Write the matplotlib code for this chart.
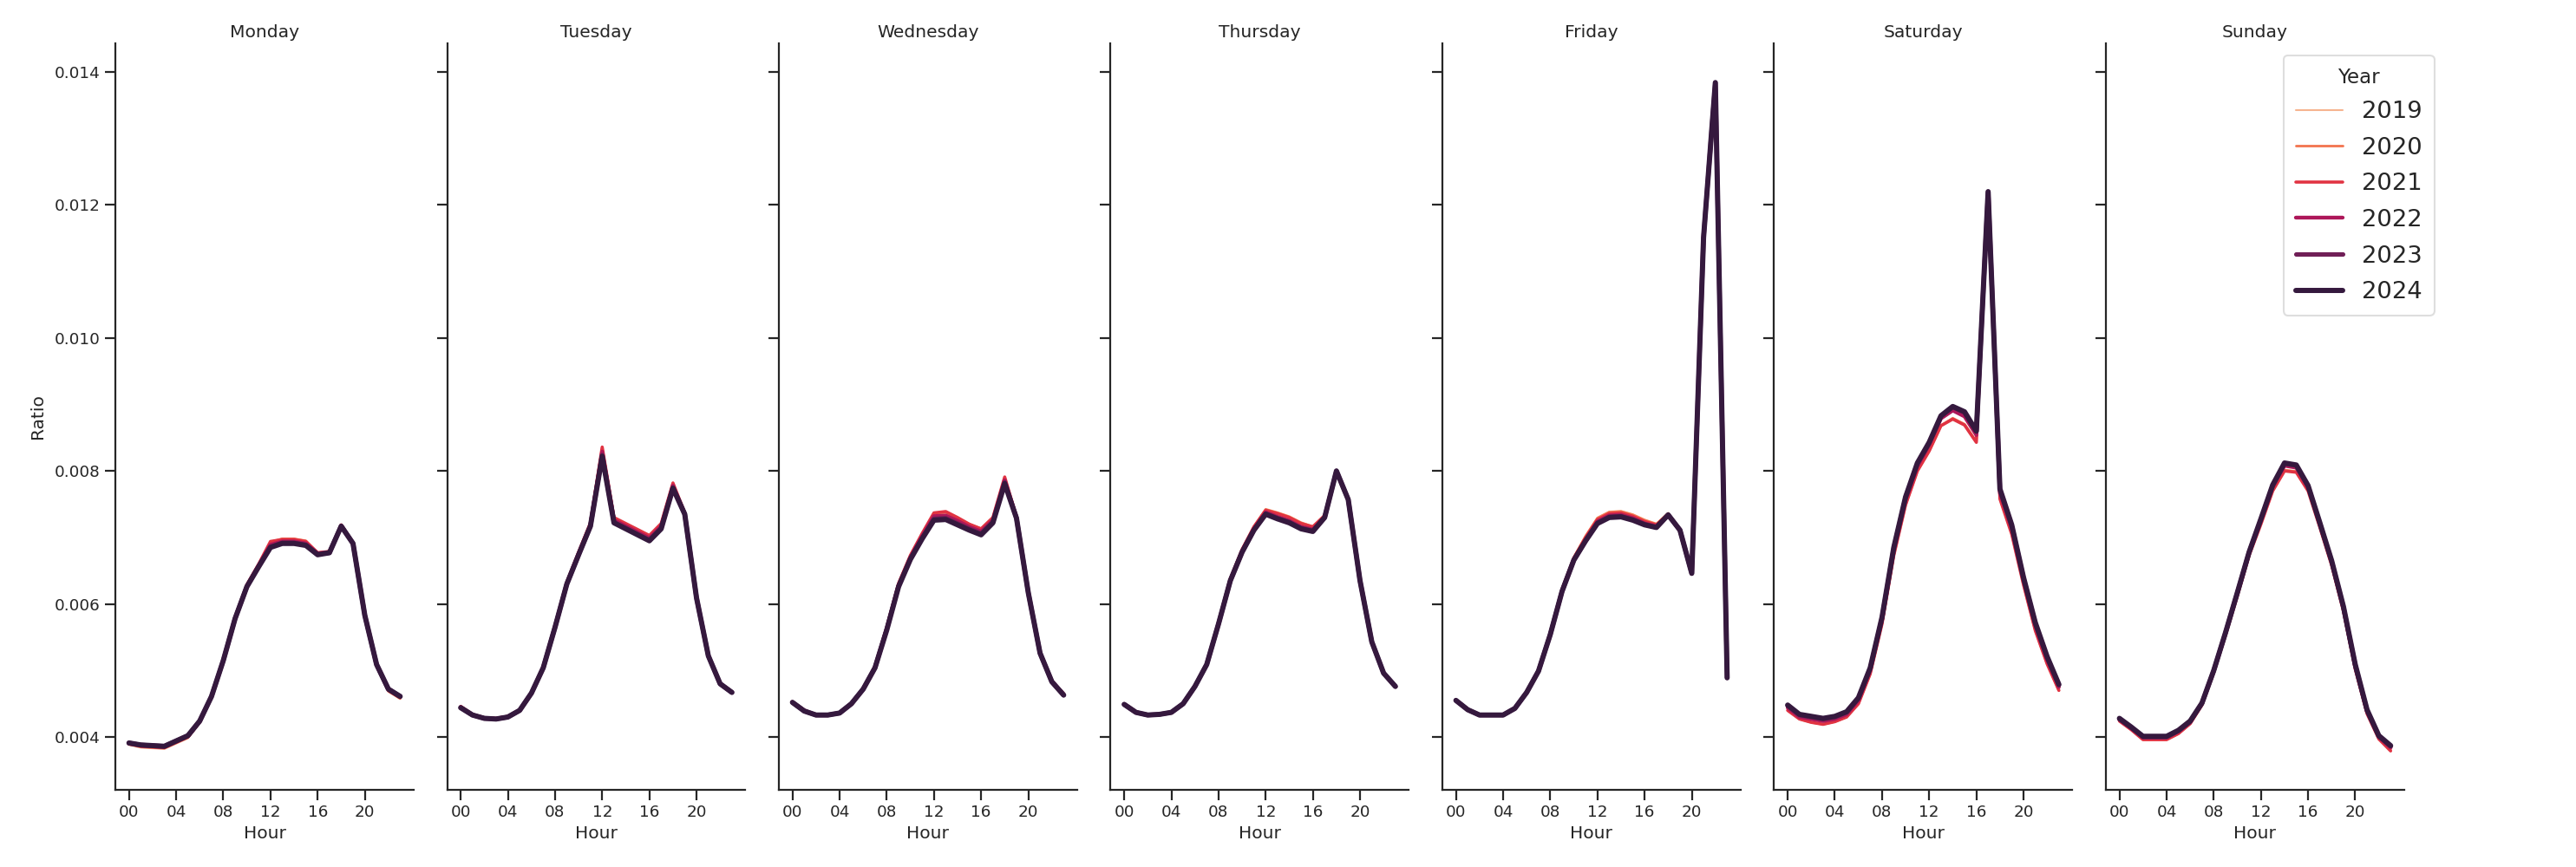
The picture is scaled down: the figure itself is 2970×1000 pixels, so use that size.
import numpy as np
import matplotlib
matplotlib.use("Agg")
import matplotlib.pyplot as plt

# ---------------- data (Ratio x 1e5, hours 00..23) ----------------
hours = list(range(24))
days = ["Monday", "Tuesday", "Wednesday", "Thursday", "Friday", "Saturday", "Sunday"]
years = [2019, 2020, 2021, 2022, 2023, 2024]
colors = ["#f6b48f", "#f37651", "#e13342", "#ad1759", "#701f57", "#35193e"]
linewidths = [1.5, 2.05, 2.6, 3.15, 3.7, 4.3]
hour_ticks = [0, 4, 8, 12, 16, 20]
hour_labels = ["00", "04", "08", "12", "16", "20"]

monday = {
    2019: [388, 384, 383, 382, 390, 398, 421, 459, 514, 578, 627, 659, 692, 698, 698, 694, 677, 678, 717, 691, 582, 506, 468, 457],
    2020: [389, 385, 384, 383, 391, 399, 422, 460, 515, 579, 628, 659, 693, 698, 698, 695, 677, 679, 718, 691, 582, 507, 469, 458],
    2021: [390, 386, 385, 384, 392, 400, 423, 461, 516, 580, 629, 660, 694, 697, 697, 694, 677, 679, 719, 692, 583, 508, 470, 459],
    2022: [390, 387, 386, 385, 393, 401, 423, 461, 515, 579, 627, 658, 689, 694, 694, 691, 676, 678, 718, 691, 583, 508, 471, 460],
    2023: [391, 388, 387, 386, 394, 402, 424, 461, 515, 578, 626, 657, 686, 692, 692, 689, 675, 677, 717, 691, 583, 509, 472, 461],
    2024: [391, 388, 387, 386, 394, 402, 424, 461, 515, 578, 626, 656, 685, 691, 691, 688, 674, 677, 717, 691, 583, 509, 472, 461],
}
tuesday = {
    2019: [445, 433, 428, 427, 430, 440, 467, 506, 567, 632, 677, 721, 832, 728, 719, 710, 701, 719, 780, 736, 610, 522, 481, 468],
    2020: [446, 434, 429, 428, 431, 441, 467, 506, 568, 633, 678, 722, 834, 729, 720, 711, 702, 720, 781, 737, 610, 522, 481, 468],
    2021: [446, 434, 429, 428, 431, 441, 467, 506, 568, 633, 678, 722, 836, 730, 721, 712, 703, 721, 782, 737, 610, 522, 481, 468],
    2022: [445, 433, 428, 427, 430, 440, 466, 505, 566, 631, 676, 719, 829, 726, 717, 708, 699, 717, 778, 736, 609, 522, 480, 467],
    2023: [444, 433, 428, 427, 430, 440, 466, 504, 565, 630, 674, 717, 824, 723, 714, 705, 696, 714, 775, 735, 609, 522, 480, 467],
    2024: [444, 433, 428, 427, 430, 440, 466, 504, 565, 630, 674, 717, 822, 722, 713, 704, 695, 713, 774, 735, 609, 522, 480, 467],
}
wednesday = {
    2019: [453, 440, 433, 433, 436, 451, 473, 506, 564, 630, 672, 705, 735, 737, 728, 719, 712, 729, 789, 731, 618, 527, 484, 465],
    2020: [453, 440, 433, 433, 436, 451, 473, 506, 565, 631, 673, 706, 736, 738, 729, 720, 713, 730, 790, 731, 618, 527, 484, 465],
    2021: [453, 440, 433, 433, 436, 451, 473, 506, 565, 631, 673, 706, 737, 739, 730, 720, 713, 730, 791, 731, 618, 527, 484, 465],
    2022: [452, 440, 433, 433, 436, 450, 472, 505, 563, 628, 670, 702, 732, 733, 725, 716, 709, 726, 786, 730, 617, 526, 484, 464],
    2023: [452, 439, 433, 433, 436, 450, 472, 504, 562, 627, 668, 699, 728, 729, 721, 713, 706, 723, 783, 729, 617, 526, 483, 463],
    2024: [452, 439, 433, 433, 436, 450, 472, 504, 561, 626, 667, 698, 726, 727, 719, 711, 704, 722, 781, 729, 617, 526, 483, 463],
}
thursday = {
    2019: [450, 438, 433, 434, 437, 451, 477, 510, 572, 638, 683, 717, 743, 738, 732, 723, 717, 734, 800, 757, 635, 543, 496, 476],
    2020: [450, 438, 433, 434, 437, 451, 477, 510, 572, 638, 682, 716, 742, 737, 731, 722, 716, 733, 800, 757, 635, 543, 496, 476],
    2021: [450, 438, 433, 434, 437, 451, 477, 510, 572, 638, 682, 716, 741, 736, 730, 721, 716, 733, 800, 757, 635, 543, 496, 476],
    2022: [449, 437, 433, 434, 437, 450, 476, 509, 571, 636, 680, 713, 738, 731, 725, 716, 712, 731, 800, 757, 635, 543, 496, 476],
    2023: [449, 437, 433, 434, 437, 450, 476, 509, 570, 635, 678, 711, 736, 729, 723, 714, 710, 730, 800, 757, 635, 543, 496, 476],
    2024: [449, 437, 433, 434, 437, 450, 476, 509, 570, 635, 678, 711, 735, 728, 722, 713, 709, 730, 800, 757, 635, 543, 496, 476],
}
friday = {
    2019: [455, 441, 433, 433, 433, 443, 468, 501, 557, 623, 671, 703, 730, 739, 740, 735, 727, 721, 737, 711, 646, 1151, 1384, 489],
    2020: [455, 441, 433, 433, 433, 443, 468, 501, 557, 623, 670, 702, 729, 738, 739, 734, 726, 720, 736, 711, 646, 1151, 1384, 489],
    2021: [455, 441, 433, 433, 433, 443, 468, 500, 556, 622, 669, 700, 727, 736, 737, 732, 724, 719, 735, 711, 646, 1151, 1384, 489],
    2022: [455, 441, 433, 433, 433, 443, 467, 500, 555, 620, 667, 697, 724, 733, 734, 729, 721, 717, 734, 711, 646, 1151, 1384, 489],
    2023: [455, 441, 433, 433, 433, 443, 467, 499, 554, 619, 666, 695, 722, 731, 732, 727, 720, 715, 734, 711, 646, 1151, 1384, 489],
    2024: [455, 441, 433, 433, 433, 443, 467, 499, 554, 619, 666, 695, 721, 730, 731, 726, 719, 715, 734, 711, 646, 1151, 1384, 489],
}
saturday = {
    2019: [441, 428, 423, 420, 424, 431, 451, 496, 571, 674, 750, 801, 831, 869, 880, 871, 845, 1220, 760, 707, 630, 561, 511, 471],
    2020: [440, 427, 422, 419, 423, 430, 450, 495, 570, 673, 749, 800, 830, 868, 879, 870, 844, 1220, 759, 706, 629, 560, 510, 470],
    2021: [440, 427, 422, 419, 423, 430, 450, 495, 570, 673, 749, 800, 830, 868, 878, 869, 843, 1220, 758, 705, 629, 560, 510, 470],
    2022: [444, 430, 427, 424, 427, 434, 455, 500, 576, 680, 756, 807, 839, 879, 891, 882, 854, 1220, 767, 713, 635, 567, 516, 475],
    2023: [447, 433, 430, 427, 430, 437, 458, 503, 579, 684, 760, 811, 842, 882, 896, 888, 859, 1220, 772, 718, 639, 571, 520, 478],
    2024: [448, 434, 431, 428, 431, 438, 459, 504, 580, 685, 761, 812, 843, 883, 897, 889, 860, 1220, 773, 719, 640, 572, 521, 479],
}
sunday = {
    2019: [425, 412, 397, 397, 397, 406, 421, 449, 498, 554, 613, 674, 722, 772, 802, 800, 772, 717, 660, 591, 504, 437, 398, 382],
    2020: [424, 411, 396, 396, 396, 405, 420, 448, 497, 553, 612, 673, 721, 771, 801, 799, 771, 716, 659, 590, 503, 436, 397, 381],
    2021: [424, 411, 396, 396, 396, 405, 420, 448, 497, 553, 612, 673, 720, 770, 800, 798, 770, 715, 658, 589, 502, 435, 397, 379],
    2022: [426, 413, 399, 399, 399, 408, 422, 450, 499, 556, 615, 676, 725, 776, 808, 805, 775, 719, 662, 593, 506, 438, 400, 384],
    2023: [427, 414, 400, 400, 400, 409, 423, 451, 500, 557, 617, 678, 727, 778, 811, 808, 777, 721, 664, 595, 508, 440, 401, 386],
    2024: [428, 415, 401, 401, 401, 410, 424, 451, 500, 557, 617, 678, 728, 779, 812, 809, 778, 722, 665, 596, 509, 441, 402, 387],
}
day_data = [monday, tuesday, wednesday, thursday, friday, saturday, sunday]
SCALE = 1e5

# ---------------- style ----------------
TXT = "#262626"
plt.rcParams.update({
    "font.family": ["DejaVu Sans"],
    "text.color": TXT,
    "axes.labelcolor": TXT,
    "xtick.color": TXT,
    "ytick.color": TXT,
    "axes.edgecolor": TXT,
})

fig, axes = plt.subplots(1, 7, figsize=(29.7, 10), dpi=100, sharey=True)
fig.subplots_adjust(left=0.0448, right=0.9333, bottom=0.089, top=0.95, wspace=0.112)

for i, (ax, day, data) in enumerate(zip(axes, days, day_data)):
    for yr, col, lw in zip(years, colors, linewidths):
        vals = np.array(data[yr]) / SCALE
        ax.plot(hours, vals, color=col, lw=lw, label=str(yr),
                solid_capstyle="round", solid_joinstyle="round")
    ax.set_title(day, fontsize=14.6, color=TXT, pad=5)
    ax.set_xticks(hour_ticks)
    ax.set_xticklabels(hour_labels)
    ax.set_xlabel("Hour", fontsize=14.6)
    ax.set_xlim(-1.15, 24.15)
    ax.set_ylim(0.003205, 0.01443)
    ax.set_yticks([0.004, 0.006, 0.008, 0.010, 0.012, 0.014])
    for s in ["top", "right"]:
        ax.spines[s].set_visible(False)
    for s in ["left", "bottom"]:
        ax.spines[s].set_linewidth(1.6)
    ax.tick_params(axis="both", labelsize=13.2, length=8.5, width=1.6, pad=4)
    if i == 0:
        ax.set_ylabel("Ratio", fontsize=14.6, labelpad=7)
        ax.set_yticklabels(["0.004", "0.006", "0.008", "0.010", "0.012", "0.014"])

handles, labels = axes[0].get_legend_handles_labels()
leg = fig.legend(handles, labels, title="Year", loc="upper right",
                 bbox_to_anchor=(0.945, 0.936), borderaxespad=0.0,
                 fontsize=19.7, title_fontsize=16.5, frameon=True,
                 handlelength=2.0, labelspacing=0.57, borderpad=0.5)
leg.get_frame().set_edgecolor("#d6d6d6")
leg.get_frame().set_linewidth(1.5)

fig.savefig("out.png", dpi=100, facecolor="white")
